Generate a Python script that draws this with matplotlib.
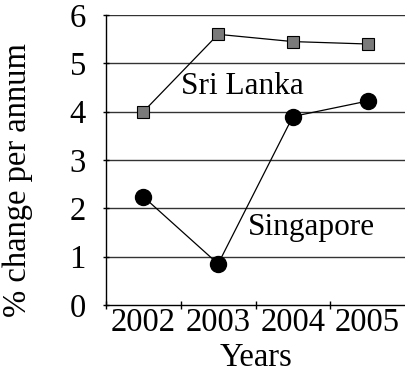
import numpy as np
import matplotlib
matplotlib.use("Agg")
import matplotlib.pyplot as plt

years = ["2002", "2003", "2004", "2005"]
sri_lanka = [4.0, 5.6, 5.45, 5.4]
singapore = [2.24, 0.85, 3.9, 4.22]
y_ticks = [0, 1, 2, 3, 4, 5, 6]

plt.rcParams["font.family"] = ["Liberation Serif", "DejaVu Serif"]

fig = plt.figure(figsize=(4.05, 3.74), dpi=100)
ax = fig.add_axes([106 / 405, 1 - 305 / 374, 299 / 405, 290 / 374])

x = np.arange(len(years))

# gridlines
for v in y_ticks[1:]:
    ax.axhline(v, color="#333333", lw=1.0, zorder=1)

ax.plot(x, sri_lanka, color="black", lw=0.9, marker="s", markersize=8,
        markerfacecolor="#7a7a7a", markeredgecolor="black", markeredgewidth=0.8, zorder=3)
ax.plot(x, singapore, color="black", lw=0.9, marker="o", markersize=11.5,
        markerfacecolor="black", markeredgecolor="black", zorder=3)

ax.text(1.33, 4.52, "Sri Lanka", fontsize=22.5, ha="center", va="center")
ax.text(2.25, 1.6, "Singapore", fontsize=22.5, ha="center", va="center")

ax.set_xlim(-0.5, 3.5)
ax.set_ylim(0, 6)
ax.set_yticks(y_ticks)
ax.set_yticklabels([str(v) for v in y_ticks], fontsize=23.5)
ax.set_xticks(x)
ax.set_xticklabels(years, fontsize=23.5)
ax.tick_params(axis="x", which="major", length=0, pad=2)
ax.set_xticks(np.arange(-0.5, 3.5, 1.0), minor=True)
ax.tick_params(axis="x", which="minor", length=6, direction="inout", width=1)
ax.tick_params(axis="y", length=5, direction="inout", width=1, pad=12)

for s in ["top", "right"]:
    ax.spines[s].set_visible(False)
ax.spines["left"].set_linewidth(1.0)
ax.spines["bottom"].set_linewidth(1.0)

ax.set_xlabel("Years", fontsize=23.5, labelpad=3)
ax.set_ylabel("% change per annum", fontsize=23.5)
ax.yaxis.set_label_coords(-0.245, 0.43)

fig.savefig("out.png", dpi=100)
